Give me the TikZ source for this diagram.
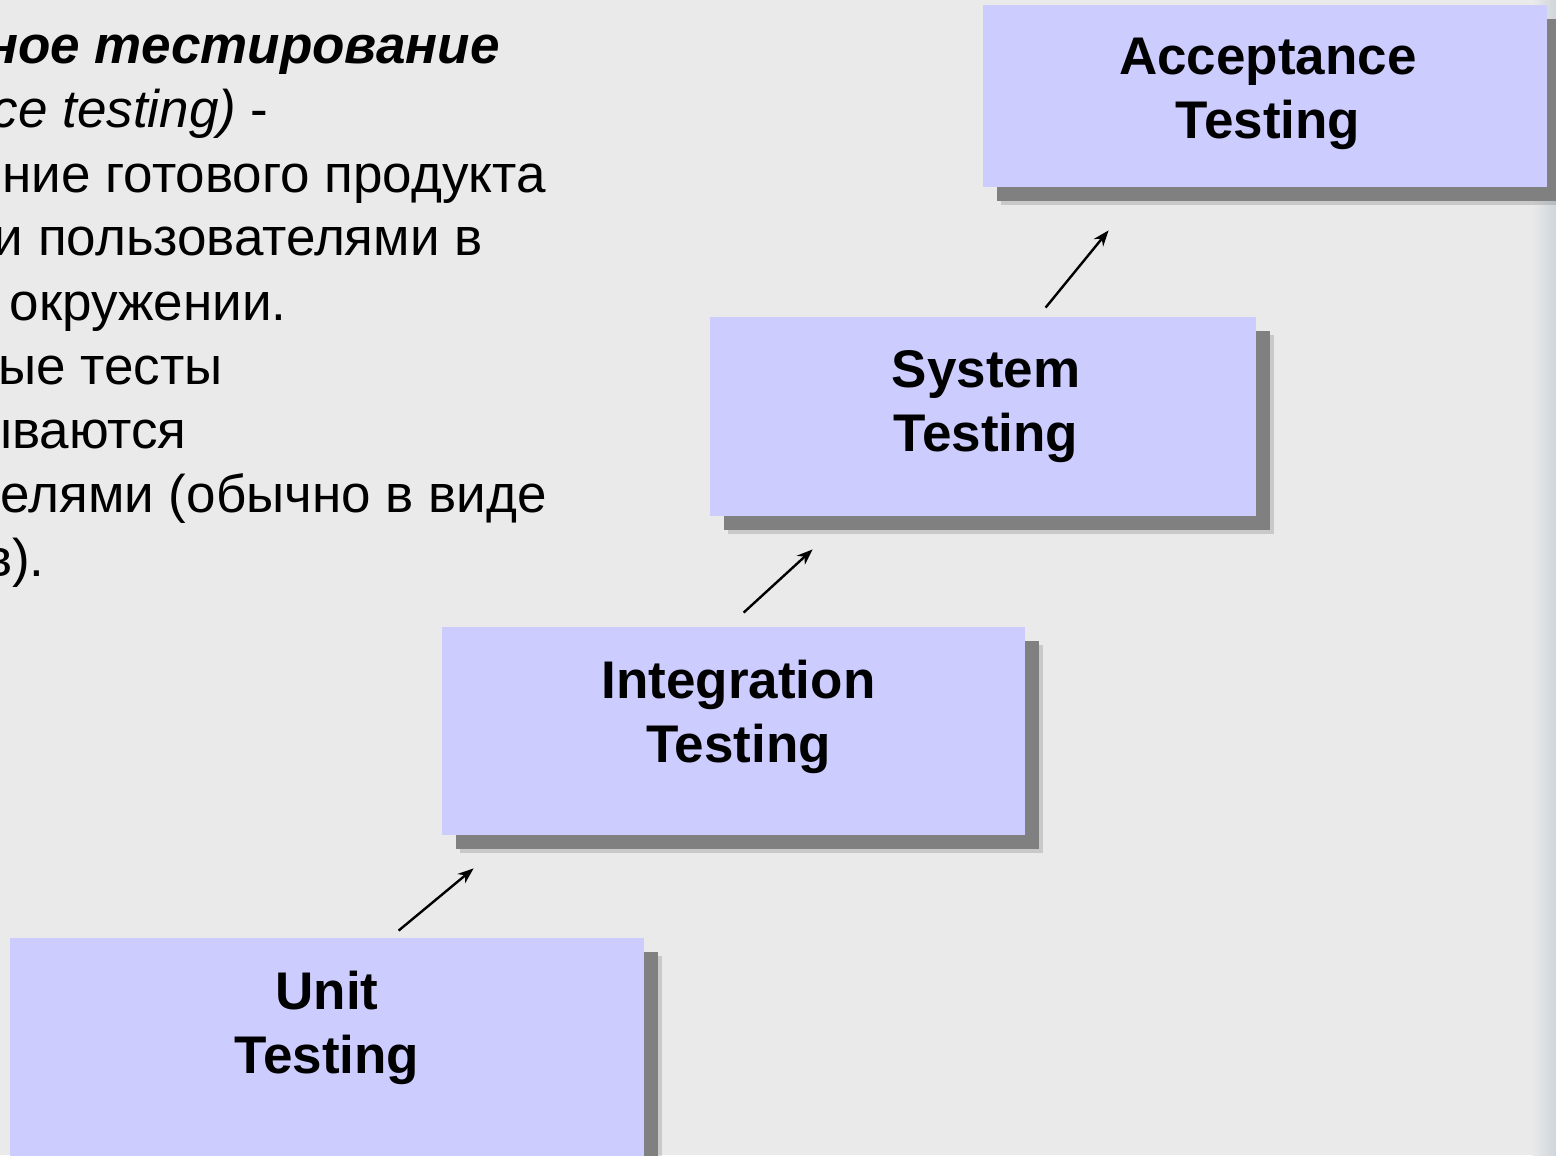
\documentclass[tikz,border=0pt]{standalone}
\usepackage{fontspec}
\setmainfont{Liberation Sans}
\usetikzlibrary{calc,fit,shadows,arrows.meta}

\definecolor{bgcol}{RGB}{234,234,234}
\definecolor{boxcol}{RGB}{204,204,255}
\definecolor{shadowcol}{RGB}{128,128,128}
\definecolor{edgecol}{RGB}{206,213,219}

\begin{document}
\begin{tikzpicture}[
    x=0.5pt, y=-0.5pt,
    stagebox/.style={
      fill=boxcol, inner sep=0pt,
      drop shadow={shadow xshift=9pt, shadow yshift=-9pt,
        fill=shadowcol, opacity=0.3},
      drop shadow={shadow xshift=7pt, shadow yshift=-7pt,
        fill=shadowcol, opacity=1}
    },
    stagetext/.style={
      font=\bfseries\fontsize{26.5}{32}\selectfont,
      align=center, inner sep=0pt, anchor=north
    },
    desc/.style={
      font=\fontsize{26.5}{32}\selectfont,
      anchor=base east, inner sep=0pt
    },
    step arrow/.style={
      -{Stealth[length=8pt, width=6pt]}, line width=1.2pt
    }
    ]
  \useasboundingbox (0,0) rectangle (1556,1155);
  \clip (0,0) rectangle (1556,1155);
  \fill[bgcol] (0,0) rectangle (1556,1155);
  \shade[left color=bgcol, right color=edgecol] (1532,0) rectangle (1556,1155);

  % description, cut at the left edge
  \node[desc] (l1) at (500,64) {\bfseries\itshape ное тестирование};
  \node[desc] (l2) at (269,128) {{\itshape ce testing)} -};
  \node[desc] (l3) at (546,192) {ние готового продукта};
  \node[desc] (l4) at (483,256) {и пользователями в};
  \node[desc] (l5) at (287,320) {окружении.};
  \node[desc] (l6) at (223,384) {ые тесты};
  \node[desc] (l7) at (187,448) {ываются};
  \node[desc] (l8) at (547,512) {елями (обычно в виде};
  \node[desc] (l9) at (45,576) {в).};

  % stages
  \node[stagebox, fit={(983,5) (1547,187)}] (accept) {};
  \node[stagebox, fit={(710,317) (1256,516)}] (system) {};
  \node[stagebox, fit={(442,627) (1025,835)}] (integ) {};
  \node[stagebox, fit={(10,938) (644,1180)}] (unit) {};

  \node[stagetext] (acceptlbl) at ($(accept.north)+(3,33)$) {Acceptance\\Testing};
  \node[stagetext] (systemlbl) at ($(system.north)+(3,33)$) {System\\Testing};
  \node[stagetext] (integlbl) at ($(integ.north)+(5,33)$) {Integration\\Testing};
  \node[stagetext] (unitlbl) at ($(unit.north)+(0,33)$) {Unit\\Testing};

  \draw[step arrow] ($(unit.north west)+(389,-7)$) -- ($(integ.south west)+(32,33)$);
  \draw[step arrow] ($(integ.north west)+(302,-14)$) -- ($(system.south west)+(103,33)$);
  \draw[step arrow] ($(system.north west)+(336,-9)$) -- ($(accept.south west)+(126,43)$);
\end{tikzpicture}
\end{document}
